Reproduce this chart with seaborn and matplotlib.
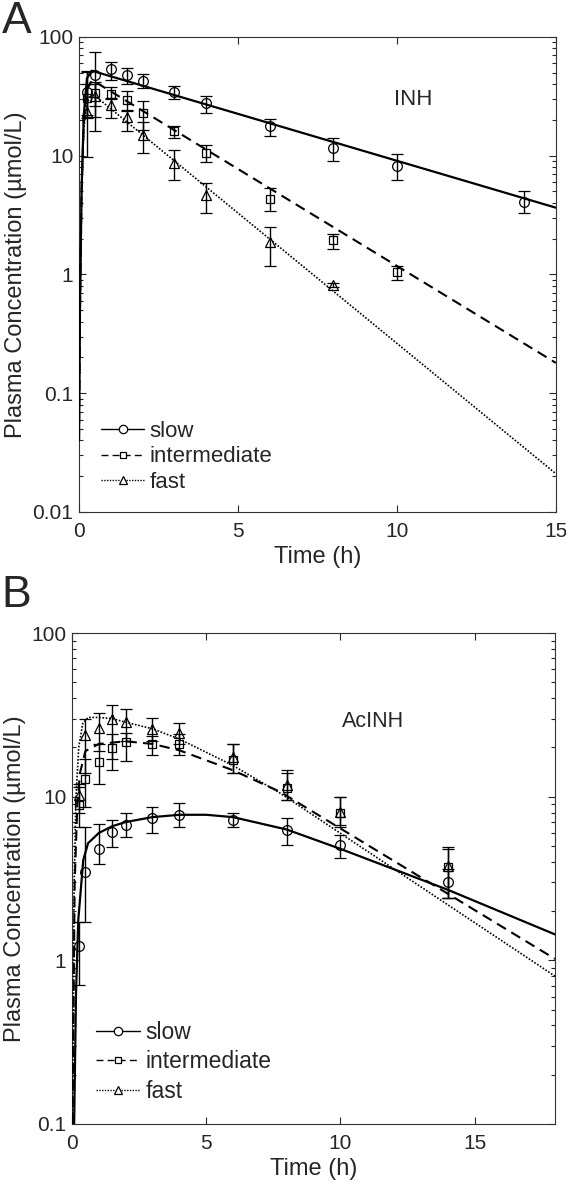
import numpy as np
import pandas as pd
import seaborn as sns
import matplotlib.pyplot as plt
from matplotlib.lines import Line2D
from matplotlib.ticker import FixedLocator, LogLocator, NullFormatter

# ---- Panel A: INH (observed means with error bar bounds) ----
a_slow_t = [0.25, 0.5, 1, 1.5, 2, 3, 4, 6, 8, 10, 14]
a_slow_v = [34.4, 48, 53.5, 48, 42.6, 34.6, 28, 17.8, 11.7, 8.25, 4.08]
a_slow_lo = [20.8, 16, 43, 40, 37, 30, 23, 14.6, 9.0, 6.2, 3.3]
a_slow_hi = [52, 74, 62, 55, 48.5, 38.8, 32, 20.3, 14.2, 10.3, 5.0]

a_int_t = [0.25, 0.5, 1, 1.5, 2, 3, 4, 6, 8, 10]
a_int_v = [30.8, 33.6, 33.1, 29.5, 22.8, 16.2, 10.6, 4.33, 1.94, 1.04]
a_int_lo = [22, 26, 30, 24, 16.5, 14, 8.8, 3.4, 1.63, 0.89]
a_int_hi = [40, 42, 38, 35, 29, 17.8, 12.3, 5.3, 2.2, 1.18]

a_fast_t = [0.25, 0.5, 1, 1.5, 2, 3, 4, 6, 8]
a_fast_v = [23.5, 32, 26.8, 21.1, 15.0, 8.74, 4.67, 1.89, 0.81]
a_fast_lo = [9.8, 21, 20.8, 16.2, 10.6, 6.2, 3.3, 1.18, 0.78]
a_fast_hi = [51, 40, 30.7, 24.3, 19.4, 11.2, 5.85, 2.5, 0.84]

# model curves A
a_slow_ct = [0, 0.03, 0.08, 0.15, 0.25, 0.4, 15]
a_slow_cv = [0.04, 0.5, 5, 22, 45, 52, 3.65]
a_int_ct = [0, 0.03, 0.08, 0.15, 0.25, 0.4, 0.5, 15]
a_int_cv = [0.04, 0.5, 5, 20, 36, 43, 42, 0.18]
a_fast_ct = [0, 0.03, 0.08, 0.15, 0.25, 0.4, 0.5, 15]
a_fast_cv = [0.04, 0.5, 5, 17, 28, 32.5, 32, 0.021]

# ---- Panel B: AcINH ----
b_t = [0.25, 0.5, 1, 1.5, 2, 3, 4, 6, 8, 10, 14]
b_slow_v = [1.22, 3.47, 4.77, 6.1, 6.76, 7.36, 7.78, 7.25, 6.24, 5.05, 3.0]
b_slow_lo = [0.71, 1.72, 3.9, 4.9, 5.7, 6.0, 6.5, 6.5, 5.1, 4.2, 2.4]
b_slow_hi = [1.72, 6.5, 6.8, 7.2, 7.9, 8.6, 9.1, 8.0, 7.4, 5.8, 3.6]

b_int_v = [8.9, 12.9, 16.3, 19.9, 21.6, 20.9, 21.0, 16.7, 11.3, 7.96, 3.7]
b_int_lo = [6.5, 8.7, 12, 14.5, 16.5, 18, 18, 14, 9.5, 6.5, 2.4]
b_int_hi = [11.5, 16.9, 21, 24, 24.5, 23.5, 24, 21, 14, 10, 4.8]

b_fast_v = [10.2, 23.8, 26.4, 29.7, 28.7, 25.8, 24.4, 17.4, 11.75, 8.07, 3.76]
b_fast_lo = [8, 14, 19, 17, 22, 22, 21, 14, 9.5, 6.7, 2.4]
b_fast_hi = [12, 30, 32.5, 36.3, 34.1, 30.1, 28.2, 21, 14.6, 10, 4.9]

b_slow_ct = [0.08, 0.15, 0.235, 0.42, 0.6, 1, 1.5, 2, 3, 4, 5, 6, 8, 10, 12, 14, 18]
b_slow_cv = [0.1, 0.63, 1.77, 4.1, 5.2, 6.0, 6.6, 7.0, 7.5, 7.75, 7.75, 7.5, 6.3, 4.8, 3.6, 2.7, 1.44]
b_int_ct = [0.02, 0.1, 0.2, 0.3, 0.5, 1, 2, 3, 4, 6, 7.76, 18]
b_int_cv = [0.1, 3, 9, 14, 19, 21, 21.8, 21, 19.2, 14.5, 10.7, 1.02]
b_fast_ct = [0.02, 0.08, 0.15, 0.25, 0.4, 0.6, 1.0, 1.5, 2, 3, 4, 6, 7.76, 18]
b_fast_cv = [0.1, 3, 10, 20, 28, 30.5, 30.5, 30, 28.5, 26, 22.5, 15.5, 10.5, 0.8]

labels = ['slow', 'intermediate', 'fast']
line_styles = ['-', (0, (5, 3)), (0, (1, 1))]
line_widths = [1.6, 1.5, 1.2]
markers = ['o', 's', '^']
marker_sizes = [7, 5.5, 7]

sns.set_style("ticks")
plt.rcParams['font.family'] = ['Liberation Sans', 'DejaVu Sans']
plt.rcParams['font.size'] = 15

fig = plt.figure(figsize=(5.66, 11.85), dpi=100)
axA = fig.add_axes([0.1396, 0.568, 0.8424, 0.4008])
axB = fig.add_axes([0.1272, 0.0515, 0.8534, 0.4143])


def draw_panel(ax, curves, points):
    for i, (ct, cv) in enumerate(curves):
        df = pd.DataFrame({'t': ct, 'c': cv})
        sns.lineplot(data=df, x='t', y='c', ax=ax, color='black', sort=False,
                     linestyle=line_styles[i], linewidth=line_widths[i], zorder=3)
    for i, (t, v, lo, hi) in enumerate(points):
        v = np.array(v)
        yerr = [v - np.array(lo), np.array(hi) - v]
        ax.errorbar(t, v, yerr=yerr, fmt=markers[i], ms=marker_sizes[i],
                    mfc='none', mec='black', mew=0.9, ecolor='black',
                    elinewidth=1.0, capsize=4, capthick=1.0, zorder=4)


def style_axes(ax, xmax, ymin, ymax, yticks, yticklabels):
    ax.set_yscale('log')
    ax.set_xlim(0, xmax)
    ax.set_ylim(ymin, ymax)
    ax.set_xticks([0, 5, 10, 15])
    ax.set_xticklabels(['0', '5', '10', '15'])
    ax.yaxis.set_major_locator(FixedLocator(yticks))
    ax.set_yticklabels(yticklabels)
    ax.yaxis.set_minor_locator(LogLocator(base=10, subs=np.arange(2, 10)))
    ax.yaxis.set_minor_formatter(NullFormatter())
    ax.tick_params(which='both', direction='in', top=True, right=True,
                   labelsize=15, width=0.8)
    ax.tick_params(which='major', length=5, pad=4)
    ax.tick_params(axis='x', which='major', pad=7)
    ax.tick_params(which='minor', length=3)
    for s in ax.spines.values():
        s.set_linewidth(0.8)
        s.set_color('#333333')
    ax.set_xlabel('Time (h)', fontsize=17, labelpad=4)
    ax.set_ylabel('Plasma Concentration (µmol/L)', fontsize=17, labelpad=4)


draw_panel(axA,
           [(a_slow_ct, a_slow_cv), (a_int_ct, a_int_cv), (a_fast_ct, a_fast_cv)],
           [(a_slow_t, a_slow_v, a_slow_lo, a_slow_hi),
            (a_int_t, a_int_v, a_int_lo, a_int_hi),
            (a_fast_t, a_fast_v, a_fast_lo, a_fast_hi)])
style_axes(axA, 15, 0.01, 100, [0.01, 0.1, 1, 10, 100],
           ['0.01', '0.1', '1', '10', '100'])
axA.text(10.5, 30, 'INH', ha='center', va='center', fontsize=16)

draw_panel(axB,
           [(b_slow_ct, b_slow_cv), (b_int_ct, b_int_cv), (b_fast_ct, b_fast_cv)],
           [(b_t, b_slow_v, b_slow_lo, b_slow_hi),
            (b_t, b_int_v, b_int_lo, b_int_hi),
            (b_t, b_fast_v, b_fast_lo, b_fast_hi)])
style_axes(axB, 18, 0.1, 100, [0.1, 1, 10, 100], ['0.1', '1', '10', '100'])
axB.text(11.2, 29, 'AcINH', ha='center', va='center', fontsize=15.5)

handles = [Line2D([0], [0], color='black', linestyle=line_styles[i],
                  linewidth=1.0, marker=markers[i], ms=marker_sizes[i] - 1,
                  mfc='white', mec='black', mew=0.9)
           for i in range(3)]
axA.legend(handles, labels, loc='lower left', bbox_to_anchor=(0.005, -0.002),
           frameon=False, handlelength=1.9, handletextpad=0.25,
           labelspacing=0.2, fontsize=16)
axB.legend(handles, labels, loc='lower left', bbox_to_anchor=(0.008, 0.0),
           frameon=False, handlelength=1.9, handletextpad=0.25,
           labelspacing=0.3, fontsize=16.5)

fig.text(0.003, 0.999, 'A', fontsize=32, va='top', ha='left')
fig.text(0.003, 0.515, 'B', fontsize=32, va='top', ha='left')

fig.savefig('out.png', dpi=100)
